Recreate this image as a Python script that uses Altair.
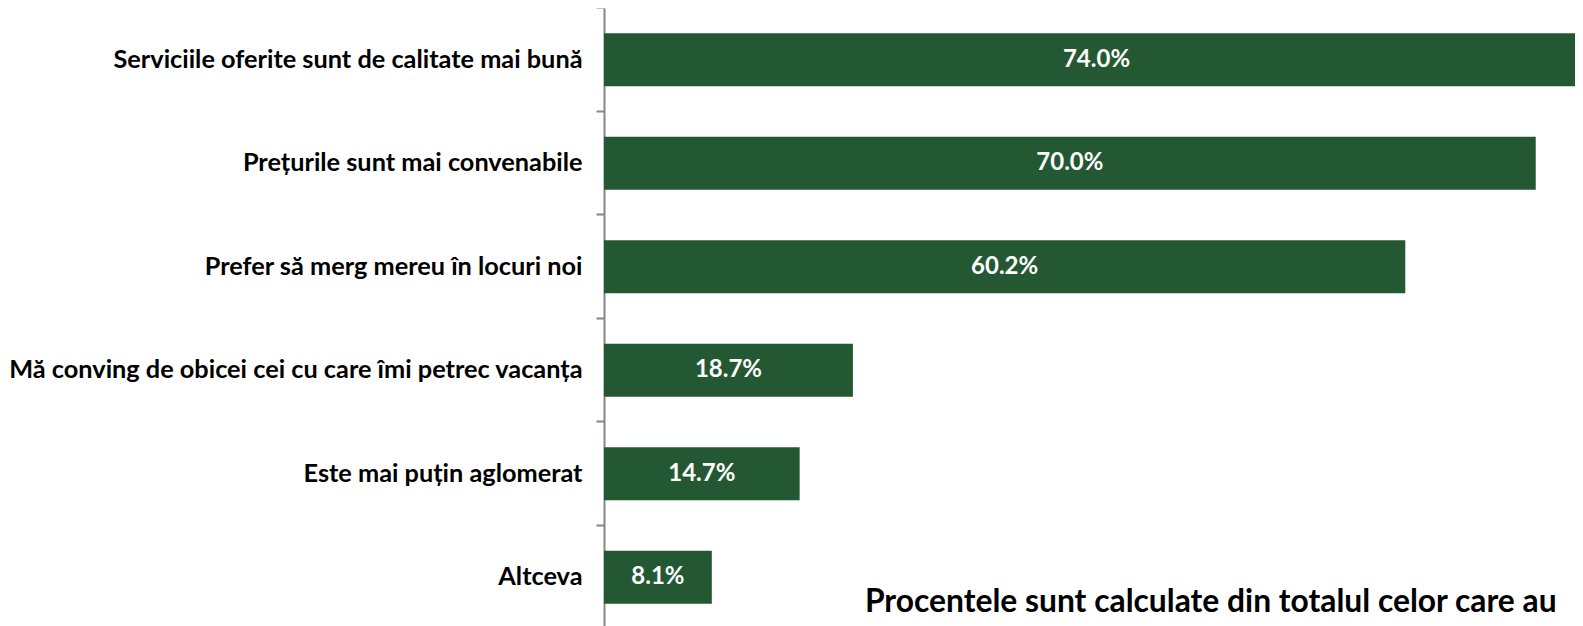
import altair as alt
import pandas as pd

categories = [
    "Serviciile oferite sunt de calitate mai bună",
    "Prețurile sunt mai convenabile",
    "Prefer să merg mereu în locuri noi",
    "Mă conving de obicei cei cu care îmi petrec vacanța",
    "Este mai puțin aglomerat",
    "Altceva",
]
values = [74.0, 70.0, 60.2, 18.7, 14.7, 8.1]
value_labels = ["74.0%", "70.0%", "60.2%", "18.7%", "14.7%", "8.1%"]
note_text = "Procentele sunt calculate din totalul  celor care au"

df = pd.DataFrame({"cat": categories, "val": values, "lab": value_labels})
df["mid"] = df["val"] / 2

FONT = "Lato"
GREEN = "#245833"
PAD_IN = 0.488

y_enc = alt.Y(
    "cat:N",
    sort=categories,
    scale=alt.Scale(paddingInner=PAD_IN, paddingOuter=PAD_IN / 2),
    axis=alt.Axis(
        title=None,
        labelFont=FONT,
        labelFontSize=25.3,
        labelFontWeight="bold",
        labelColor="#000000",
        labelLimit=1000,
        labelPadding=14,
        tickSize=8,
        tickWidth=2,
        tickColor="#868686",
        domainColor="#868686",
        domainWidth=2,
        bandPosition=-(PAD_IN / 2) / (1 - PAD_IN),
        grid=False,
    ),
)
x_scale = alt.Scale(domain=[0, 72.95], nice=False, zero=True)

bars = alt.Chart(df).mark_bar(color=GREEN, clip=True).encode(
    y=y_enc,
    x=alt.X("val:Q", scale=x_scale, axis=None),
)

labels = alt.Chart(df).mark_text(
    color="white", font=FONT, fontSize=24, fontWeight="bold", align="center", baseline="middle"
).encode(
    y=alt.Y("cat:N", sort=categories),
    x=alt.X("mid:Q", scale=x_scale),
    text="lab:N",
)

note = alt.Chart(pd.DataFrame({"t": [note_text], "x": [19.6]})).mark_text(
    color="black", font=FONT, fontSize=31.8, fontWeight="bold", align="left", baseline="alphabetic"
).encode(
    x=alt.X("x:Q", scale=x_scale),
    y=alt.value(604),
    text="t:N",
)

chart = (
    alt.layer(bars, labels, note)
    .properties(
        width=971,
        height=621,
        padding={"left": 596, "top": 0, "right": 0, "bottom": 0},
        autosize=alt.AutoSizeParams(type="none"),
        background="white",
    )
    .configure_view(stroke=None)
)

chart.save("out.html", embed_options={"renderer": "svg", "actions": False})
